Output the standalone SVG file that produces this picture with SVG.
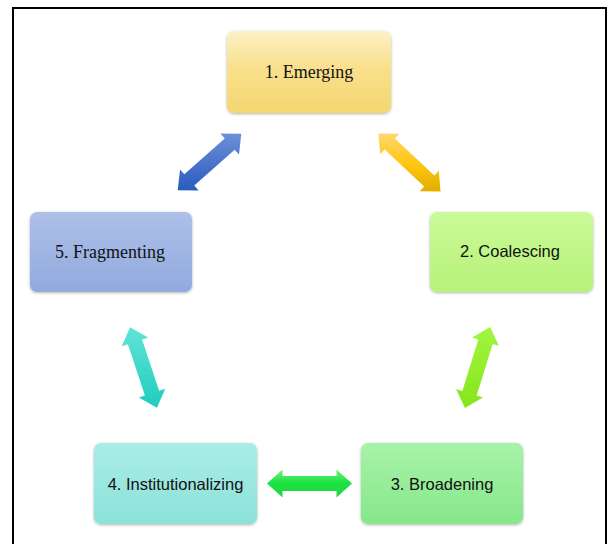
<svg xmlns="http://www.w3.org/2000/svg" width="612" height="544" viewBox="0 0 612 544">
<style>
.box{filter:url(#sh);}
.serif{font-family:"Liberation Serif","Times New Roman",serif;font-size:18px;fill:#111;text-anchor:middle;}
.sans{font-family:"Liberation Sans",Arial,sans-serif;font-size:16.5px;fill:#111;text-anchor:middle;}
</style>
<defs>
<filter id="sh" x="-10%" y="-10%" width="120%" height="130%">
<feGaussianBlur in="SourceAlpha" stdDeviation="1.6"/>
<feOffset dy="0.8"/>
<feComponentTransfer><feFuncA type="linear" slope="0.3"/></feComponentTransfer>
<feMerge><feMergeNode/><feMergeNode in="SourceGraphic"/></feMerge>
</filter>
<linearGradient id="gY" x1="0" y1="0" x2="0" y2="1"><stop offset="0" stop-color="#fdf1c6"/><stop offset="0.45" stop-color="#f9e08c"/><stop offset="1" stop-color="#f4d670"/></linearGradient>
<linearGradient id="gB" x1="0" y1="0" x2="0" y2="1"><stop offset="0" stop-color="#adc0e8"/><stop offset="1" stop-color="#91aade"/></linearGradient>
<linearGradient id="gL" x1="0" y1="0" x2="0" y2="1"><stop offset="0" stop-color="#cbfa99"/><stop offset="1" stop-color="#b6f279"/></linearGradient>
<linearGradient id="gT" x1="0" y1="0" x2="0" y2="1"><stop offset="0" stop-color="#aaece6"/><stop offset="1" stop-color="#8be2d9"/></linearGradient>
<linearGradient id="gG" x1="0" y1="0" x2="0" y2="1"><stop offset="0" stop-color="#a8f2a8"/><stop offset="1" stop-color="#86e78b"/></linearGradient>
<linearGradient id="aB" gradientUnits="userSpaceOnUse" x1="18.6" y1="-20.9" x2="-18.6" y2="20.9"><stop offset="0" stop-color="#6c90d8"/><stop offset="1" stop-color="#2a5bbf"/></linearGradient>
<linearGradient id="aY" gradientUnits="userSpaceOnUse" x1="-19.4" y1="-20.8" x2="19.4" y2="20.8"><stop offset="0" stop-color="#ffd66e"/><stop offset="0.5" stop-color="#ffc812"/><stop offset="1" stop-color="#e3ae00"/></linearGradient>
<linearGradient id="aT" gradientUnits="userSpaceOnUse" x1="-38.4" y1="-12.8" x2="38.4" y2="12.8"><stop offset="0" stop-color="#62e4d7"/><stop offset="1" stop-color="#1ecdbd"/></linearGradient>
<linearGradient id="aL" gradientUnits="userSpaceOnUse" x1="-38.7" y1="12" x2="38.7" y2="-12"><stop offset="0" stop-color="#a2f540"/><stop offset="1" stop-color="#86e51c"/></linearGradient>
<linearGradient id="aG" gradientUnits="userSpaceOnUse" x1="0" y1="-13.5" x2="0" y2="13.5"><stop offset="0" stop-color="#6ef07e"/><stop offset="0.5" stop-color="#18e23e"/><stop offset="1" stop-color="#2ad24a"/></linearGradient>
<path id="arr" d="M-42.5,0 L-27,-14 L-27,-7.5 L27,-7.5 L27,-14 L42.5,0 L27,14 L27,7.5 L-27,7.5 L-27,14 Z"/>
</defs>
<rect width="612" height="544" fill="#fff"/>
<path d="M13,544 V8 H606 V544" fill="none" stroke="#000" stroke-width="2"/>
<g id="connectors">
<use href="#arr" fill="url(#aB)" transform="translate(209.5,162) rotate(-41.6)"/>
<use href="#arr" fill="url(#aY)" transform="translate(409.5,162.5) rotate(43)"/>
<use href="#arr" fill="url(#aT)" transform="translate(143.5,367.5) rotate(71.6)"/>
<use href="#arr" fill="url(#aL)" transform="translate(477.5,367.5) rotate(107.2)"/>
<use href="#arr" fill="url(#aG)" transform="translate(309.5,483.5)"/>
</g>
<g id="n1"><rect class="box" x="227" y="31" width="164" height="82" rx="7" fill="url(#gY)"/><text class="serif" x="309" y="78">1. Emerging</text></g>
<g id="n2"><rect class="box" x="430" y="212" width="163" height="80" rx="7" fill="url(#gL)"/><text class="sans" x="510" y="257">2. Coalescing</text></g>
<g id="n3"><rect class="box" x="361" y="443" width="162" height="81" rx="7" fill="url(#gG)"/><text class="sans" x="442" y="490">3. Broadening</text></g>
<g id="n4"><rect class="box" x="94" y="443" width="163" height="81" rx="7" fill="url(#gT)"/><text class="sans" x="175.5" y="490">4. Institutionalizing</text></g>
<g id="n5"><rect class="box" x="30" y="212" width="162" height="80" rx="7" fill="url(#gB)"/><text class="serif" x="110" y="258">5. Fragmenting</text></g>
</svg>
